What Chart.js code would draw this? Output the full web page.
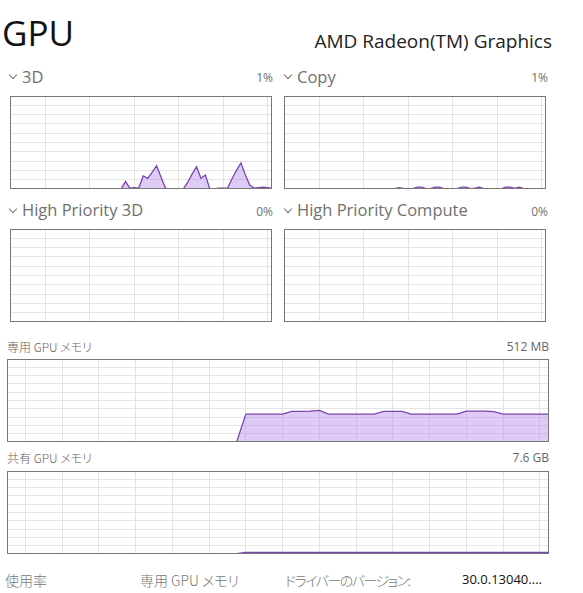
<!DOCTYPE html>
<html>
<head>
<meta charset="utf-8">
<script src="https://cdn.jsdelivr.net/npm/chart.js@4"></script>
<style>
  body { margin: 0; width: 583px; height: 593px; background: #fff; position: relative; overflow: hidden;
         font-family: "Open Sans", "Noto Sans CJK JP", sans-serif; }
  .t { position: absolute; white-space: nowrap; line-height: 1; }
  .jp { font-family: "Noto Sans CJK JP", sans-serif; font-weight: 300; font-feature-settings: "palt"; }
  .head { font-size: 16.5px; color: #707070; }
  .pct { font-size: 12px; color: #707070; }
  .small { font-size: 12px; color: #666; }
  .foot { font-size: 14px; color: #777; }
  .chev { position: absolute; width: 5px; height: 5px; border-right: 1px solid #777; border-bottom: 1px solid #777; transform: rotate(45deg); }
  canvas { position: absolute; }
</style>
</head>
<body>

<div class="t" style="left:2px; top:15px; font-size:35px; color:#111;">GPU</div>
<div class="t" style="right:31px; top:32px; font-size:19px; color:#222;">AMD Radeon(TM) Graphics</div>

<span class="chev" style="left:10px; top:72px;"></span>
<div class="t head" style="left:22px; top:69px;">3D</div>
<div class="t pct" style="right:310px; top:72px;">1%</div>
<span class="chev" style="left:285px; top:72px;"></span>
<div class="t head" style="left:297px; top:69px;">Copy</div>
<div class="t pct" style="right:35px; top:72px;">1%</div>

<span class="chev" style="left:10px; top:206px;"></span>
<div class="t head" style="left:22px; top:202px;">High Priority 3D</div>
<div class="t pct" style="right:310px; top:206px;">0%</div>
<span class="chev" style="left:285px; top:206px;"></span>
<div class="t head" style="left:297px; top:202px;">High Priority Compute</div>
<div class="t pct" style="right:35px; top:206px;">0%</div>

<div class="t small jp" style="left:7px; top:341px;">専用 GPU メモリ</div>
<div class="t small" style="right:34px; top:341px;">512 MB</div>
<div class="t small jp" style="left:7px; top:452px;">共有 GPU メモリ</div>
<div class="t small" style="right:34px; top:452px;">7.6 GB</div>

<div class="t foot jp" style="left:5px; top:573px;">使用率</div>
<div class="t foot jp" style="left:140px; top:573px;">専用 GPU メモリ</div>
<div class="t foot jp" style="left:285px; top:573px; letter-spacing:-1.5px;">ドライバーのバージョン:</div>
<div class="t" style="left:462px; top:573px; font-size:13px; color:#111;">30.0.13040....</div>

<canvas id="c3d" width="262" height="93" style="left:10px; top:96px;"></canvas>
<canvas id="ccopy" width="262" height="93" style="left:284px; top:96px;"></canvas>
<canvas id="chp3d" width="262" height="93" style="left:10px; top:229px;"></canvas>
<canvas id="chpc" width="262" height="93" style="left:284px; top:229px;"></canvas>
<canvas id="cded" width="542" height="83" style="left:7px; top:359px;"></canvas>
<canvas id="cshr" width="542" height="83" style="left:7px; top:471px;"></canvas>

<script>
// 60 one-second samples, history only exists from sample 25 on
const seconds = Array.from({ length: 60 }, (_, i) => i);

const gpu3d = [
    null, null, null, null, null, null, null, null, null, null,
    null, null, null, null, null, null, null, null, null, null,
    null, null, null, null, null,
    0, 8, 1, 1.5, 1, 14, 11.5, 18, 25, 13,
    1, 0, 0, 0, 0, 7, 16, 24, 11.5, 15,
    0, 0, 1, 1, 1, 11, 20, 28, 15, 4,
    1, 1.5, 2, 1.5, 0.5
];
const gpuCopy = [
    null, null, null, null, null, null, null, null, null, null,
    null, null, null, null, null, null, null, null, null, null,
    null, null, null, null, null,
    0.5, 1.5, 0.3, 0, 0.5, 2, 2, 0.5, 0.5, 2,
    2, 0.3, 0, 0, 0.3, 2, 2, 0.5, 1, 2,
    0.3, 0, 0, 0, 0.5, 2, 2, 0.8, 2, 0.3,
    0, 0, 0, 0, 0
];
const gpuHigh3d = [
    null, null, null, null, null, null, null, null, null, null,
    null, null, null, null, null, null, null, null, null, null,
    null, null, null, null, null,
    0, 0, 0, 0, 0, 0, 0, 0, 0, 0,
    0, 0, 0, 0, 0, 0, 0, 0, 0, 0,
    0, 0, 0, 0, 0, 0, 0, 0, 0, 0,
    0, 0, 0, 0, 0
];
const gpuHighCompute = gpuHigh3d.slice();
// memory in percent of the 512 MB / 7.6 GB limits
const dedicatedMem = [
    null, null, null, null, null, null, null, null, null, null,
    null, null, null, null, null, null, null, null, null, null,
    null, null, null, null, null,
    0, 33.7, 33.7, 33.7, 33.7, 33.7, 37, 37, 37.3, 38,
    33.7, 33.7, 33.7, 33.7, 33.7, 33.7, 37, 37, 37, 33.7,
    33.7, 33.7, 33.7, 33.7, 33.7, 37.2, 37.2, 37.2, 36.5, 33.7,
    33.7, 33.7, 33.7, 33.7, 33.7
];
const sharedMem = [
    null, null, null, null, null, null, null, null, null, null,
    null, null, null, null, null, null, null, null, null, null,
    null, null, null, null, null,
    0, 1.5, 1.5, 1.5, 1.5, 1.5, 1.5, 1.5, 1.5, 1.5,
    1.5, 1.5, 1.5, 1.5, 1.5, 1.5, 1.5, 1.5, 1.5, 1.5,
    1.5, 1.5, 1.5, 1.5, 1.5, 1.5, 1.5, 1.5, 1.5, 1.5,
    1.5, 1.5, 1.5, 1.5, 1.5
];

// where the scrolling vertical grid lines sit (in seconds)
const gridSmall = [8, 18, 28, 38, 48, 58];
const gridWide = [2, 6, 10, 14, 18, 22, 26, 30, 34, 38, 42, 46, 50, 54, 58];

const lineColor = "#7b45b0";
const fillColor = "rgba(182, 140, 235, 0.45)";

// gray frame round the plot area
const framePlugin = {
    id: "frame",
    afterDraw(chart) {
        const { ctx, chartArea: a } = chart;
        ctx.save();
        ctx.strokeStyle = "#777";
        ctx.lineWidth = 1;
        ctx.strokeRect(a.left + 0.5, a.top + 0.5, a.width - 1, a.height - 1);
        ctx.restore();
    }
};

function makeGraph(id, values, gridX, width) {
    new Chart(document.getElementById(id), {
        type: "line",
        data: {
            labels: seconds,
            datasets: [{
                data: values,
                borderColor: lineColor,
                backgroundColor: fillColor,
                borderWidth: width,
                pointRadius: 0,
                tension: 0,
                fill: "origin",
                spanGaps: false
            }]
        },
        options: {
            responsive: false,
            animation: false,
            events: [],
            layout: { padding: 0 },
            plugins: { legend: { display: false }, tooltip: { enabled: false } },
            scales: {
                x: {
                    type: "linear", min: 0, max: 59,
                    afterBuildTicks: axis => { axis.ticks = gridX.map(v => ({ value: v })); },
                    ticks: { display: false },
                    grid: { color: "#e4e4e4", drawTicks: false },
                    border: { display: false }
                },
                y: {
                    min: 0, max: 100,
                    ticks: { display: false, stepSize: 10 },
                    grid: { color: "#e4e4e4", drawTicks: false },
                    border: { display: false }
                }
            }
        },
        plugins: [framePlugin]
    });
}

makeGraph("c3d", gpu3d, gridSmall, 1.3);
makeGraph("ccopy", gpuCopy, gridSmall, 1.3);
makeGraph("chp3d", gpuHigh3d, gridSmall, 1.3);
makeGraph("chpc", gpuHighCompute, gridSmall, 1.3);
makeGraph("cded", dedicatedMem, gridWide, 1.3);
makeGraph("cshr", sharedMem, gridWide, 2);
</script>
</body>
</html>
